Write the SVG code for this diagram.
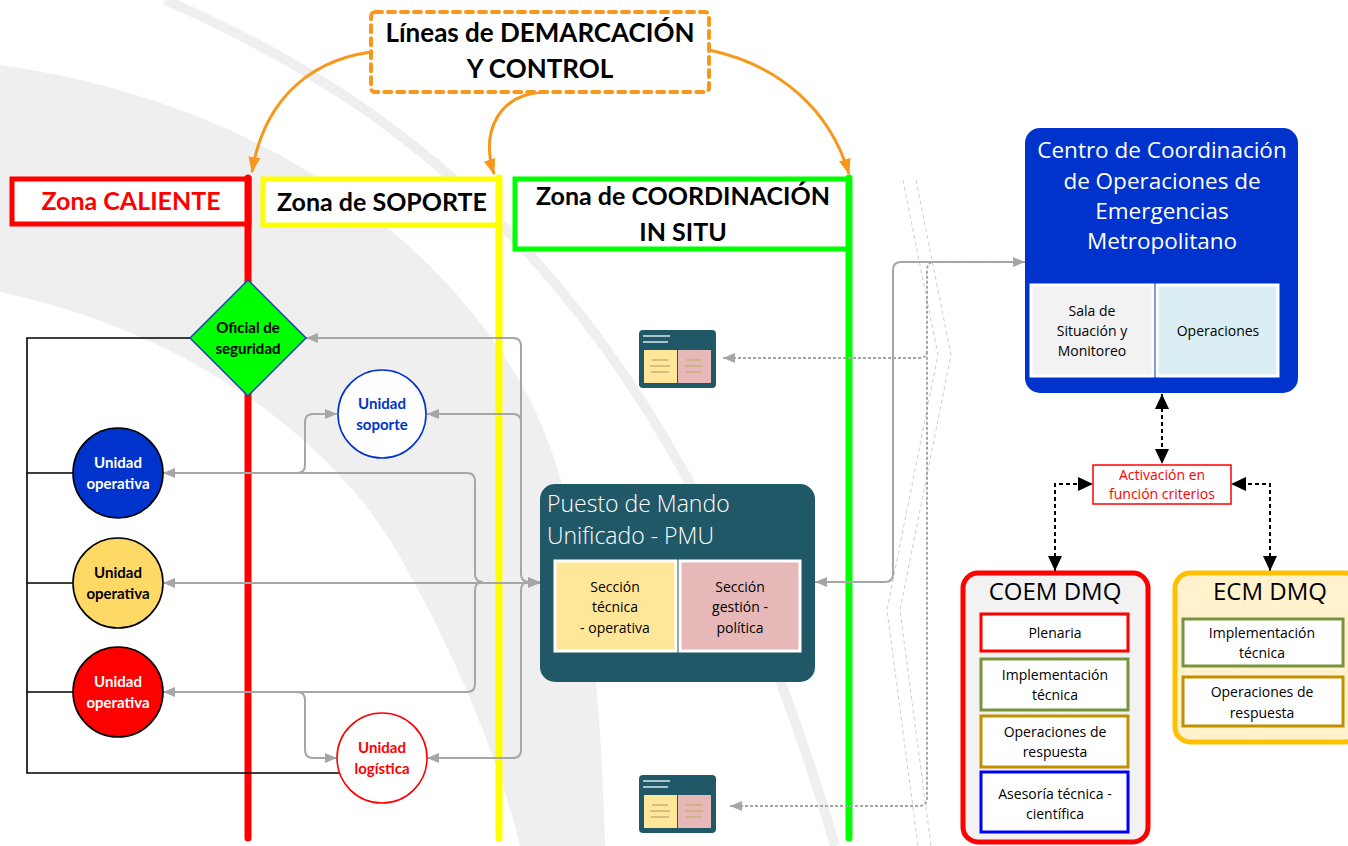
<svg xmlns="http://www.w3.org/2000/svg" width="1348" height="846" viewBox="0 0 1348 846">
<defs>
<style>
.bg{fill:#efefef;stroke:none}
.zone{fill:#fff;stroke-width:5}
.head{font-family:Lato,"Liberation Sans",sans-serif;font-weight:bold;font-size:25px;text-anchor:middle}
.b15{font-family:Lato,"Liberation Sans",sans-serif;font-weight:bold;font-size:15px;text-anchor:middle}
.os{font-family:"Open Sans","Noto Sans",sans-serif;text-anchor:middle}
.t14{font-size:14px}
.big{font-size:23px;font-weight:300}
.big4{font-size:22.5px;font-weight:400}
.g{fill:none;stroke:#a6a6a6;stroke-width:2}
.gd{fill:none;stroke:#a6a6a6;stroke-width:2;stroke-dasharray:3 2}
.k{fill:none;stroke:#000;stroke-width:2;stroke-dasharray:4 3}
.orange{fill:none;stroke:#f7981d;stroke-width:3}
.inner{stroke-width:3;fill:#fff}
</style>
<marker id="ag" viewBox="0 0 12 10" refX="12" refY="5" markerWidth="12" markerHeight="10" markerUnits="userSpaceOnUse" orient="auto-start-reverse"><path d="M0,0 L12,5 L0,10 Z" fill="#a6a6a6"/></marker>
<marker id="ak" viewBox="0 0 15 14" refX="15" refY="7" markerWidth="15" markerHeight="14" markerUnits="userSpaceOnUse" orient="auto-start-reverse"><path d="M0,0 L15,7 L0,14 Z" fill="#000"/></marker>
<marker id="ao" viewBox="0 0 16 12" refX="15" refY="6" markerWidth="16" markerHeight="12" markerUnits="userSpaceOnUse" orient="auto"><path d="M0,0 L16,6 L0,12 Z" fill="#f7981d"/></marker>
</defs>

<!-- background swooshes -->
<g id="background">
<rect x="0" y="0" width="1348" height="846" fill="#fff"/>
<path class="bg" d="M0,65 C250,100 440,230 530,400 C580,500 600,650 605,846 L520,846 C500,760 450,640 390,540 C320,430 180,330 0,292 Z"/>
<path d="M165,0 C420,110 680,310 835,846" fill="none" stroke="#efefef" stroke-width="10"/>
<path d="M903,180 L938,355 L887,610 L918,846" fill="none" stroke="#cfcfcf" stroke-width="1" stroke-dasharray="4 3"/>
<path d="M916,180 L951,355 L900,610 L931,846" fill="none" stroke="#cfcfcf" stroke-width="1" stroke-dasharray="4 3"/>
</g>

<!-- zones -->
<g id="zona-caliente">
<rect class="zone" x="12" y="179" width="237" height="45" stroke="#ff0000"/>
<line x1="248" y1="178" x2="248" y2="838" stroke="#ff0000" stroke-width="7" stroke-linecap="round"/>
<text class="head" x="131" y="210" fill="#ff0000">Zona CALIENTE</text>
</g>
<g id="zona-soporte">
<rect class="zone" x="263" y="179" width="236" height="46" stroke="#ffff00"/>
<line x1="499" y1="178" x2="499" y2="838" stroke="#ffff00" stroke-width="7" stroke-linecap="round"/>
<text class="head" x="382" y="211" fill="#000">Zona de SOPORTE</text>
</g>
<g id="zona-coordinacion">
<rect class="zone" x="515" y="179" width="334" height="70" stroke="#00ff00"/>
<line x1="849" y1="178" x2="849" y2="838" stroke="#00ff00" stroke-width="7" stroke-linecap="round"/>
<text class="head" x="683" y="205" fill="#000">Zona de COORDINACIÓN</text>
<text class="head" x="683" y="241" fill="#000">IN SITU</text>
</g>

<!-- connectors -->
<g id="connectors">
<path class="orange" d="M371,52 C300,62 262,110 252,172" marker-end="url(#ao)"/>
<path class="orange" d="M542,92 C500,95 480,130 494,174" marker-end="url(#ao)"/>
<path class="orange" d="M709,50 C780,65 830,110 849,174" marker-end="url(#ao)"/>

<path d="M190,338 H27 V773 H340 M27,473 H73 M27,583 H73 M27,692 H73" fill="none" stroke="#000" stroke-width="1.6"/>

<path class="g" d="M306,338 H513 Q521,338 521,346 V574 Q521,582 529,582 H540" marker-start="url(#ag)" marker-end="url(#ag)"/>
<path class="g" d="M427,414 H513 Q521,414 521,422 V574" marker-start="url(#ag)"/>
<path class="g" d="M163,473 H467 Q475,473 475,481 V574 Q475,582 483,582" marker-start="url(#ag)"/>
<path class="g" d="M297,473 Q305,473 305,465 V422 Q305,414 313,414 H337" marker-end="url(#ag)"/>
<path class="g" d="M163,583 H540" marker-start="url(#ag)" marker-end="url(#ag)"/>
<path class="g" d="M163,692 H467 Q475,692 475,684 V590 Q475,582 483,582" marker-start="url(#ag)"/>
<path class="g" d="M297,692 Q305,692 305,700 V750 Q305,758 313,758 H337" marker-end="url(#ag)"/>
<path class="g" d="M427,758 H513 Q521,758 521,750 V590 Q521,582 529,582" marker-start="url(#ag)"/>
<path class="g" d="M815,582 H885 Q893,582 893,574 V270 Q893,262 901,262 H1025" marker-start="url(#ag)" marker-end="url(#ag)"/>
<path class="gd" d="M723,358 H919 Q927,358 927,350 V270 Q927,262 935,262 H1015" marker-start="url(#ag)"/>
<path class="gd" d="M730,806 H919 Q927,806 927,798 V350" marker-start="url(#ag)"/>

<path class="k" d="M1162,394 V464" marker-start="url(#ak)" marker-end="url(#ak)"/>
<path class="k" d="M1055,571 V484 H1093" marker-start="url(#ak)" marker-end="url(#ak)"/>
<path class="k" d="M1270,571 V484 H1231" marker-start="url(#ak)" marker-end="url(#ak)"/>
</g>

<g id="titulo">
<rect x="371" y="12" width="338" height="80" rx="4" fill="#fff" stroke="#f7981d" stroke-width="4" stroke-dasharray="7 6" stroke-linecap="round"/>
<text class="head" x="540" y="42" fill="#000" style="font-size:26px">Líneas de DEMARCACIÓN</text>
<text class="head" x="540" y="78" fill="#000" style="font-size:26px">Y CONTROL</text>
</g>

<g id="oficial-seguridad">
<path d="M248,280 L306,338 L248,396 L190,338 Z" fill="#00ff00" stroke="#1f3fbf" stroke-width="1.5"/>
<text class="b15" x="248" y="333" fill="#000">Oficial de</text>
<text class="b15" x="248" y="354" fill="#000">seguridad</text>
</g>

<g id="unidad-soporte">
<circle cx="382" cy="414" r="44" fill="#fff" stroke="#0033cc" stroke-width="1.6"/>
<text class="b15" x="382" y="409" fill="#0033cc">Unidad</text>
<text class="b15" x="382" y="430" fill="#0033cc">soporte</text>
</g>
<g id="unidad-operativa-azul">
<circle cx="118" cy="473" r="45" fill="#0033cc" stroke="#000" stroke-width="1.6"/>
<text class="b15" x="118" y="468" fill="#fff">Unidad</text>
<text class="b15" x="118" y="489" fill="#fff">operativa</text>
</g>
<g id="unidad-operativa-amarilla">
<circle cx="118" cy="583" r="45" fill="#ffd966" stroke="#000" stroke-width="1.6"/>
<text class="b15" x="118" y="578" fill="#000">Unidad</text>
<text class="b15" x="118" y="599" fill="#000">operativa</text>
</g>
<g id="unidad-operativa-roja">
<circle cx="118" cy="692" r="45" fill="#ff0000" stroke="#000" stroke-width="1.6"/>
<text class="b15" x="118" y="687" fill="#fff">Unidad</text>
<text class="b15" x="118" y="708" fill="#fff">operativa</text>
</g>
<g id="unidad-logistica">
<circle cx="382" cy="758" r="45" fill="#fff" stroke="#ff0000" stroke-width="1.6"/>
<text class="b15" x="382" y="753" fill="#ff0000">Unidad</text>
<text class="b15" x="382" y="774" fill="#ff0000">logística</text>
</g>

<g id="pmu">
<rect x="540" y="484" width="275" height="198" rx="15" fill="#215868"/>
<text class="os big" x="547" y="512" fill="#fff" style="text-anchor:start">Puesto de Mando</text>
<text class="os big" x="547" y="544" fill="#fff" style="text-anchor:start">Unificado - PMU</text>
<rect x="555" y="561" width="121" height="90" fill="#ffe699" stroke="#fff" stroke-width="3"/>
<rect x="680" y="561" width="120" height="90" fill="#e6b9b8" stroke="#fff" stroke-width="3"/>
<text class="os t14" x="615" y="592" fill="#000">Sección</text>
<text class="os t14" x="615" y="612" fill="#000">técnica</text>
<text class="os t14" x="615" y="633" fill="#000">- operativa</text>
<text class="os t14" x="740" y="592" fill="#000">Sección</text>
<text class="os t14" x="740" y="612" fill="#000">gestión -</text>
<text class="os t14" x="740" y="633" fill="#000">política</text>
</g>

<g id="pmu-mini-1">
<rect x="639" y="330" width="77" height="58" rx="4" fill="#215868"/>
<rect x="644" y="350" width="33" height="33" fill="#ffe699"/>
<rect x="678" y="350" width="33" height="33" fill="#e6b9b8"/>
<path d="M643,336 H670 M643,342 H668" stroke="#a9c4cc" stroke-width="2"/>
<path d="M652,360 H668 M650,366 H670 M651,372 H669 M686,360 H702 M685,366 H703 M686,372 H701" stroke="#c9b07a" stroke-width="1.5"/>
</g>
<g id="pmu-mini-2">
<rect x="639" y="775" width="77" height="58" rx="4" fill="#215868"/>
<rect x="644" y="795" width="33" height="33" fill="#ffe699"/>
<rect x="678" y="795" width="33" height="33" fill="#e6b9b8"/>
<path d="M643,781 H670 M643,787 H668" stroke="#a9c4cc" stroke-width="2"/>
<path d="M652,805 H668 M650,811 H670 M651,817 H669 M686,805 H702 M685,811 H703 M686,817 H701" stroke="#c9b07a" stroke-width="1.5"/>
</g>

<g id="ccoe">
<rect x="1025" y="128" width="273" height="265" rx="15" fill="#0033cc"/>
<text class="os big4" x="1162" y="158" fill="#fff">Centro de Coordinación</text>
<text class="os big4" x="1162" y="189" fill="#fff">de Operaciones de</text>
<text class="os big4" x="1162" y="219" fill="#fff">Emergencias</text>
<text class="os big4" x="1162" y="249" fill="#fff">Metropolitano</text>
<rect x="1031" y="285" width="122" height="91" fill="#f2f2f2" stroke="#fff" stroke-width="3"/>
<rect x="1157" y="285" width="121" height="91" fill="#daeef3" stroke="#fff" stroke-width="3"/>
<text class="os t14" x="1092" y="316" fill="#000">Sala de</text>
<text class="os t14" x="1092" y="336" fill="#000">Situación y</text>
<text class="os t14" x="1092" y="356" fill="#000">Monitoreo</text>
<text class="os t14" x="1218" y="336" fill="#000">Operaciones</text>
</g>

<g id="activacion">
<rect x="1093" y="465" width="138" height="39" fill="#fff" stroke="#ff0000" stroke-width="1.5"/>
<text class="os t14" x="1162" y="480" fill="#ff0000">Activación en</text>
<text class="os t14" x="1162" y="499" fill="#ff0000">función criterios</text>
</g>

<g id="coem">
<rect x="963" y="573" width="185" height="269" rx="15" fill="#f2f2f2" stroke="#ff0000" stroke-width="5"/>
<text class="os" x="1055" y="600" fill="#000" style="font-size:24px">COEM DMQ</text>
<rect class="inner" x="981" y="614" width="147" height="37" stroke="#ff0000"/>
<text class="os t14" x="1055" y="638" fill="#000">Plenaria</text>
<rect class="inner" x="981" y="659" width="147" height="51" stroke="#77933c"/>
<text class="os t14" x="1055" y="680" fill="#000">Implementación</text>
<text class="os t14" x="1055" y="700" fill="#000">técnica</text>
<rect class="inner" x="981" y="716" width="147" height="51" stroke="#bf9000"/>
<text class="os t14" x="1055" y="737" fill="#000">Operaciones de</text>
<text class="os t14" x="1055" y="757" fill="#000">respuesta</text>
<rect class="inner" x="981" y="772" width="147" height="60" stroke="#0000ff"/>
<text class="os t14" x="1055" y="799" fill="#000">Asesoría técnica -</text>
<text class="os t14" x="1055" y="819" fill="#000">científica</text>
</g>

<g id="ecm">
<rect x="1175" y="573" width="185" height="169" rx="15" fill="#fff2cc" stroke="#ffc000" stroke-width="5"/>
<text class="os" x="1270" y="600" fill="#000" style="font-size:24px">ECM DMQ</text>
<rect class="inner" x="1183" y="619" width="160" height="47" stroke="#77933c"/>
<text class="os t14" x="1262" y="638" fill="#000">Implementación</text>
<text class="os t14" x="1262" y="658" fill="#000">técnica</text>
<rect class="inner" x="1183" y="677" width="160" height="49" stroke="#bf9000"/>
<text class="os t14" x="1262" y="697" fill="#000">Operaciones de</text>
<text class="os t14" x="1262" y="718" fill="#000">respuesta</text>
</g>
</svg>
